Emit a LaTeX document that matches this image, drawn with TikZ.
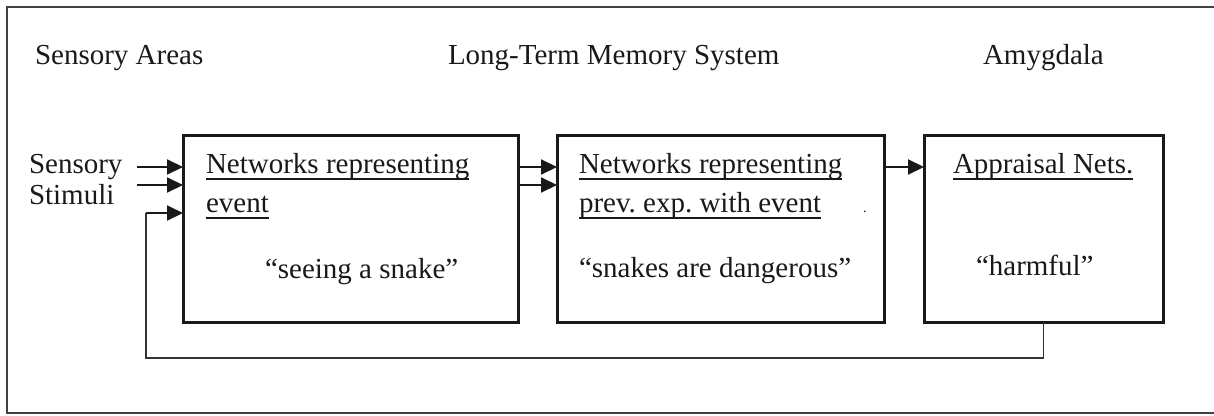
\documentclass[tikz,border=0pt]{standalone}
\usepackage{fontspec}
\setmainfont{Liberation Serif}
\frenchspacing
\usetikzlibrary{arrows.meta,calc}
\begin{document}
\begin{tikzpicture}[x=1pt,y=-1pt,
  every node/.style={inner sep=0pt,outer sep=0pt,font=\fontsize{29}{34}\selectfont,text=black!90},
  txt/.style={anchor=base west},
  bigbox/.style={draw=black!90,line width=3pt,minimum height=187pt},
  arr/.style={line width=2pt,draw=black!90,-{Triangle[length=16pt,width=15pt]}},
  fbline/.style={line width=1.3pt,draw=black!80},
  uline/.style={line width=1.5pt,draw=black!90},
  frame/.style={line width=1.3pt,draw=black!75}]
\useasboundingbox (0,0) rectangle (1214,415);
% outer frame (right side cut off)
\draw[frame] (1214,7) -- (7,7) -- (7,413) -- (1214,413);
% headings
\node[txt] (hsa) at (35,64) {Sensory Areas};
\node[txt] (hltm) at (448,64) {Long-Term Memory System};
\node[txt] (hamy) at (983,64) {Amygdala};
% boxes
\node[bigbox,minimum width=335pt] (b1) at (350.5,228.5) {};
\node[bigbox,minimum width=327pt] (b2) at (720.5,228.5) {};
\node[bigbox,minimum width=239pt] (b3) at (1043.5,228.5) {};
% input label
\node[txt] (ss1) at (29,173) {Sensory};
\node[txt] (ss2) at (29,204) {Stimuli};
% box 1 texts
\node[txt] (t1a) at (206,173) {Networks representing};
\node[txt] (t1b) at (206,212) {event};
\node[txt] (t1c) at (265,278) {“seeing a snake”};
% box 2 texts
\node[txt] (t2a) at (579,173) {Networks representing};
\node[txt] (t2b) at (579,212) {prev. exp. with event};
\node[txt] (t2c) at (579,277) {“snakes are dangerous”};
\node[txt,font=\fontsize{14}{16}\selectfont] (t2d) at (863,212) {.};
% box 3 texts
\node[txt] (t3a) at (953,173) {Appraisal Nets.};
\node[txt] (t3c) at (976,275) {“harmful”};
% underlines
\foreach \n in {t1a,t1b,t2a,t2b,t3a}{
  \draw[uline] ($(\n.base west)+(0,6)$) -- ($(\n.base east)+(0,6)$);
}
% input arrows
\coordinate (in1) at (137,167);
\coordinate (in2) at (137,185);
\draw[arr] (in1) -- (in1 -| b1.west);
\draw[arr] (in2) -- (in2 -| b1.west);
% box1 -> box2
\draw[arr] (b1.east |- in1) -- (b2.west |- in1);
\draw[arr] (b1.east |- in2) -- (b2.west |- in2);
% box2 -> box3
\draw[arr] (b2.east |- in1) -- (b3.west |- in1);
% feedback
\coordinate (fbc) at (146,358);
\coordinate (fbin) at (146,213);
\draw[fbline] (b3.south) |- (fbc) -- (fbin);
\draw[arr] (fbin) -- (fbin -| b1.west);
\end{tikzpicture}
\end{document}
